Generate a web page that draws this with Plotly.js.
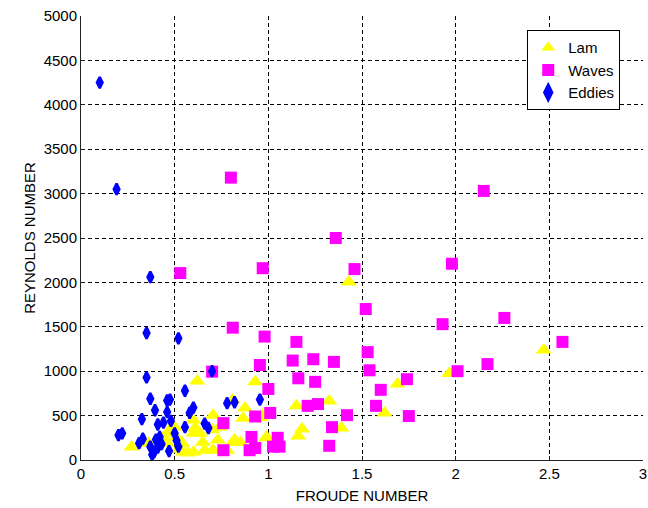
<!DOCTYPE html>
<html>
<head>
<meta charset="utf-8">
<script src="https://cdn.plot.ly/plotly-3.0.1.min.js"></script>
<style>body{margin:0;background:#fff}#chart{width:648px;height:508px}</style>
</head>
<body>
<div id="chart"></div>
<script>
// Lam (yellow triangles)
const lamX = [0.62,0.93,0.81,0.80,0.875,0.865,0.97,0.955,0.99,0.705,0.75,0.74,0.60,0.61,0.50,0.51,0.54,0.27,0.36,0.46,0.545,0.57,0.60,0.66,0.705,0.78,0.81,0.85,0.65,0.73,0.82,0.60,0.635,0.70,0.48,0.44,0.52,0.47,
  1.15,1.325,1.18,1.16,1.39,1.62,1.69,1.43,2.47,1.965,0.965,0.99];
const lamY = [890,880,675,650,585,470,505,475,260,505,395,370,450,360,370,260,190,145,190,190,90,80,90,110,110,110,200,200,200,225,225,300,300,340,300,250,120,330,
  610,665,350,270,360,530,855,2005,1240,975,495,250];
// Waves (magenta squares)
const wavesX = [0.80,2.15,1.36,1.46,0.97,0.53,1.98,1.52,1.93,2.26,0.81,1.15,0.98,2.57,1.53,1.13,1.24,1.35,0.955,1.54,2.01,2.17,0.70,1.25,1.16,1.60,1.74,1.00,1.01,0.93,1.21,1.265,1.575,1.42,1.75,1.34,1.05,1.025,1.06,1.325,0.91,0.90,0.76,0.76,0.93];
const wavesY = [3180,3030,2500,2150,2160,2105,2210,1700,1530,1600,1490,1330,1390,1330,1215,1120,1135,1105,1070,1010,1000,1080,995,880,920,790,910,800,530,490,610,630,610,505,495,370,250,150,150,160,260,110,110,415,135];
// Eddies (blue diamonds)
const eddiesX = [0.10,0.19,0.37,0.35,0.52,0.35,0.37,0.70,0.555,0.395,0.46,0.475,0.46,0.325,0.41,0.44,0.48,0.58,0.60,0.555,0.66,0.68,0.20,0.22,0.31,0.33,0.40,0.42,0.39,0.41,0.47,0.78,0.82,0.955,0.37,0.43,0.50,0.51,0.52,0.38];
const eddiesY = [4250,3050,2060,1430,1370,930,690,1000,780,560,670,680,540,460,400,420,440,530,590,370,410,360,280,300,190,240,230,260,90,140,100,640,650,680,150,180,300,220,150,60];

const traces = [
  {x: lamX, y: lamY, name: 'Lam', type: 'scatter', mode: 'markers',
   marker: {symbol: 'triangle-up', size: 14, color: '#FFFF00', line: {width: 0}}},
  {x: wavesX, y: wavesY, name: 'Waves', type: 'scatter', mode: 'markers',
   marker: {symbol: 'square', size: 12, color: '#FF00FF', line: {width: 0}}},
  {x: eddiesX, y: eddiesY, name: 'Eddies', type: 'scatter', mode: 'markers',
   marker: {symbol: 'diamond-tall', size: 8, color: '#0000FF', line: {width: 2.5, color: '#0000FF'}}}
];

const fnt = {family: 'Liberation Sans, Arial, sans-serif', size: 15, color: '#000'};
const axisCommon = {
  showgrid: true, gridcolor: '#000', griddash: '4px,3px', gridwidth: 1,
  zeroline: false, showline: true, linecolor: '#222', linewidth: 1,
  ticks: 'inside', ticklen: 4, tickcolor: '#222',
  tickfont: fnt
};
const layout = {
  width: 648, height: 508,
  margin: {l: 81, r: 5, t: 16, b: 48},
  paper_bgcolor: '#fff', plot_bgcolor: '#fff',
  font: fnt,
  showlegend: true,
  legend: {x: 0.794, y: 0.968, xanchor: 'left', yanchor: 'top',
    bgcolor: '#fff', bordercolor: '#000', borderwidth: 1,
    font: fnt, tracegroupgap: 0, itemsizing: 'constant', traceorder: 'normal',
    entrywidth: 92, entrywidthmode: 'pixels'},
  xaxis: Object.assign({}, axisCommon, {range: [0, 3], dtick: 0.5, tick0: 0,
    title: {text: 'FROUDE NUMBER', font: fnt, standoff: 9}}),
  yaxis: Object.assign({}, axisCommon, {range: [0, 5000], dtick: 500, tick0: 0,
    title: {text: 'REYNOLDS NUMBER', font: fnt, standoff: 4}})
};
Plotly.newPlot('chart', traces, layout, {displayModeBar: false, staticPlot: true});
</script>
</body>
</html>
